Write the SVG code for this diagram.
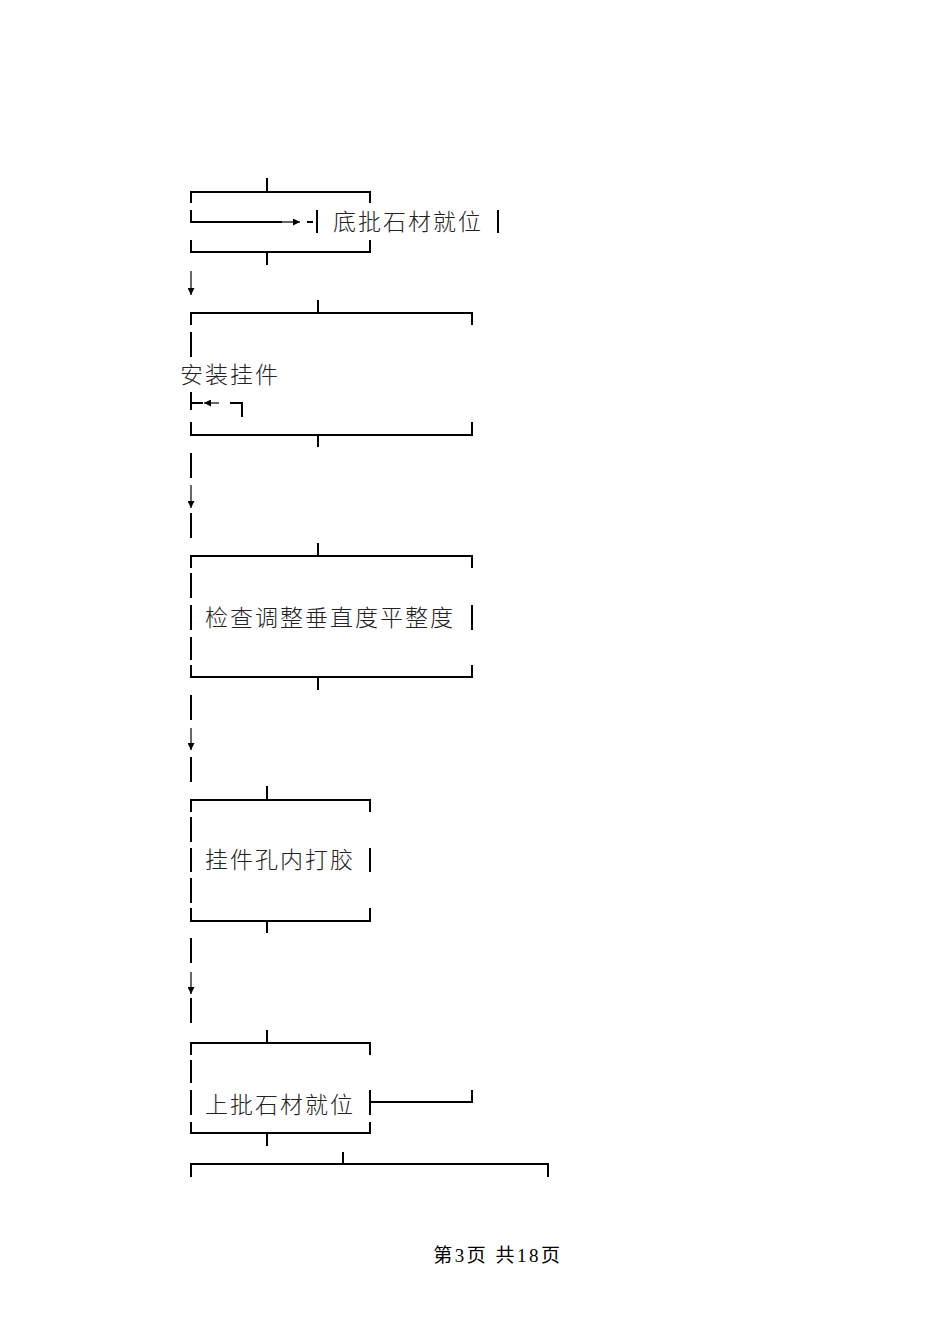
<svg xmlns="http://www.w3.org/2000/svg" width="950" height="1344" viewBox="0 0 950 1344">
<defs>
<style>
.f{fill:none;stroke:#000;stroke-width:2;stroke-linecap:butt}
.a{fill:none;stroke:#000;stroke-width:1.2}
.t{font-family:"Noto Sans CJK SC","Noto Sans CJK JP",sans-serif;font-size:23px;font-weight:300;letter-spacing:2px;fill:#222}
.p{font-family:"Liberation Serif","Noto Sans CJK SC",serif;font-size:19px;letter-spacing:2.5px;fill:#000}
</style>
<marker id="ah" viewBox="0 0 10 10" refX="10" refY="5" markerWidth="8" markerHeight="7" markerUnits="userSpaceOnUse" orient="auto">
<path d="M0,0 L10,5 L0,10 Z" fill="#000"/>
</marker>
</defs>
<rect width="950" height="1344" fill="#fff"/>

<g id="node-dipi">
<path class="f" d="M267,178 V192 M191,203 V192 H370 V203 M191,210 V222 H282 M307,222 H313 M317,210 V233 M498,210 V233 M191,240 V252 H370 V240 M267,252 V265"/>
<text class="t" x="333" y="230">底批石材就位</text>
</g>

<g id="node-anzhuang">
<path class="f" d="M318,300 V313 M191,325 V313 H472 V325 M191,332 V357 M191,392 V410 M191,403 H203 M230,403 H242 V417 M191,422 V435 H472 V422 M318,435 V447"/>
<text class="t" x="180" y="383">安装挂件</text>
</g>

<g id="node-jiancha">
<path class="f" d="M318,543 V556 M191,568 V556 H472 V568 M191,573 V598 M191,605 V630 M472,605 V630 M191,637 V660 M191,665 V677 H472 V665 M318,677 V690"/>
<text class="t" x="205" y="626">检查调整垂直度平整度</text>
</g>

<g id="node-dajiao">
<path class="f" d="M267,786 V800 M191,812 V800 H370 V812 M191,817 V842 M191,848 V872 M370,848 V872 M191,878 V903 M191,908 V921 H370 V908 M267,921 V933"/>
<text class="t" x="205" y="868">挂件孔内打胶</text>
</g>

<g id="node-shangpi">
<path class="f" d="M267,1030 V1043 M191,1055 V1043 H370 V1055 M191,1060 V1083 M191,1090 V1115 M370,1090 V1115 M370,1102 H472 V1090 M191,1122 V1133 H370 V1122 M267,1133 V1146"/>
<text class="t" x="205" y="1113">上批石材就位</text>
</g>

<g id="node-bottom">
<path class="f" d="M343,1152 V1164 M191,1177 V1164 H548 V1177"/>
</g>

<g id="connectors">
<line class="a" x1="282" y1="222" x2="300" y2="222" marker-end="url(#ah)"/>
<line class="a" x1="219" y1="403" x2="204" y2="403" marker-end="url(#ah)"/>
<line class="a" x1="191" y1="271" x2="191" y2="295" marker-end="url(#ah)"/>
<path class="f" d="M191,453 V478 M191,513 V538"/>
<line class="a" x1="191" y1="485" x2="191" y2="508" marker-end="url(#ah)"/>
<path class="f" d="M191,695 V720 M191,757 V782"/>
<line class="a" x1="191" y1="728" x2="191" y2="750" marker-end="url(#ah)"/>
<path class="f" d="M191,938 V963 M191,998 V1023"/>
<line class="a" x1="191" y1="972" x2="191" y2="994" marker-end="url(#ah)"/>
</g>

<text class="p" x="498" y="1262" text-anchor="middle">第3页 共18页</text>
</svg>
